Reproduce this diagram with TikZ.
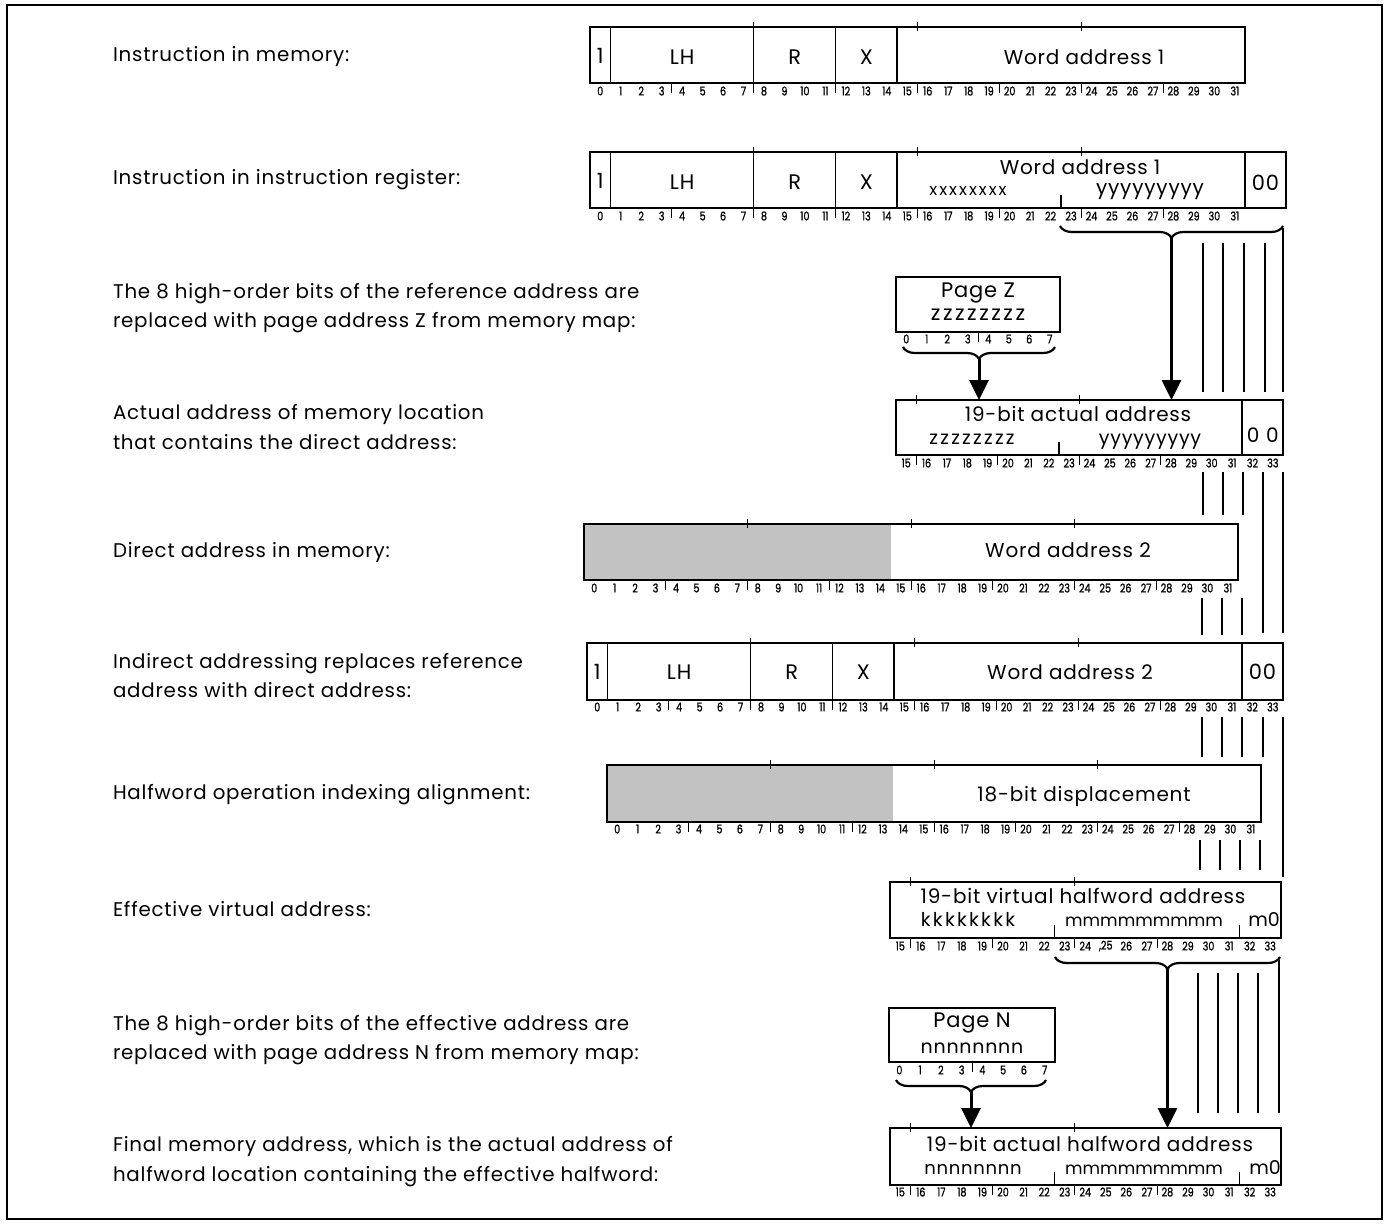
\documentclass[tikz,border=0pt]{standalone}
\usepackage{fontspec}
\setmainfont{Poppins}[LetterSpace=4]
\newfontfamily\numfont{Poppins}[FakeStretch=0.8,FakeBold=1.2]
\newfontfamily\codefont{Poppins}[LetterSpace=12]
\newfontfamily\plainfont{Poppins}
\usetikzlibrary{arrows.meta,decorations.pathreplacing}

\tikzset{
  every node/.style={inner sep=0pt, outer sep=0pt},
  lbl/.style={anchor=base west, font=\fontsize{19.8}{29}\selectfont},
  regbox/.style={draw, line width=2.4pt, anchor=north west, inner sep=0pt},
  greyfill/.style={fill=black!24},
  fieldtxt/.style={font=\fontsize{21}{24}\selectfont},
  midtxt/.style={font=\fontsize{20}{22}\selectfont},
  codetxt/.style={anchor=base, font=\codefont\fontsize{19}{20}\selectfont},
  ntxt/.style={anchor=base, font=\fontsize{18}{20}\selectfont},
  mtxt/.style={anchor=base, font=\plainfont\fontsize{17}{20}\selectfont},
  bitnum/.style={font=\numfont\fontsize{12}{12}\selectfont},
  divider/.style={line width=1.4pt},
  tick/.style={line width=1pt},
  feed/.style={line width=1.7pt},
  bracket/.style={decorate, decoration={brace, amplitude=12pt}, line width=2.2pt},
  bigarrow/.style={line width=3pt, -{Triangle[width=19pt,length=20pt]}},
}

% bit numbers under a register, and tick marks, using bx(k) of the enclosing scope
\newcommand\numrow[4]{%
  \foreach \b in {#2,...,#3}
    \node[bitnum] (#1-\b) at ({bx(\b+0.5)},#4) {\b};}
\newcommand\lowticks[3]{%
  \foreach \k in {#1} \draw[tick] ({bx(\k)},#2) -- ++(0,#3);}
\newcommand\topticks[2]{%
  \foreach \k in {#1} \draw[tick] ({bx(\k)},#2-5) -- ++(0,9);}

\begin{document}
\begin{tikzpicture}[x=1pt,y=-1pt]
\useasboundingbox (0,0) rectangle (1388,1226);
\draw[line width=2.5pt] (7,5) rectangle (1382,1219);

% ---------- descriptions ----------
\node[lbl] (l1)  at (113,61)   {Instruction in memory:};
\node[lbl] (l2)  at (113,184)  {Instruction in instruction register:};
\node[lbl] (l3a) at (113,298)  {The 8 high-order bits of the reference address are};
\node[lbl] (l3b) at (113,327)  {replaced with page address Z from memory map:};
\node[lbl] (l4a) at (113,419)  {Actual address of memory location};
\node[lbl] (l4b) at (113,449)  {that contains the direct address:};
\node[lbl] (l5)  at (113,557)  {Direct address in memory:};
\node[lbl] (l6a) at (113,668)  {Indirect addressing replaces reference};
\node[lbl] (l6b) at (113,697)  {address with direct address:};
\node[lbl] (l7)  at (113,799)  {Halfword operation indexing alignment:};
\node[lbl] (l8)  at (113,916)  {Effective virtual address:};
\node[lbl] (l9a) at (113,1030) {The 8 high-order bits of the effective address are};
\node[lbl] (l9b) at (113,1059) {replaced with page address N from memory map:};
\node[lbl] (l10a) at (113,1151) {Final memory address, which is the actual address of};
\node[lbl] (l10b) at (113,1181) {halfword location containing the effective halfword:};

% ---------- instruction in memory ----------
\begin{scope}[declare function={bx(\k)=590+\k*20.47;}]
  \node[regbox, minimum width=655pt, minimum height=56pt] (r1) at (590,27) {};
  \foreach \k in {1,8,12,15} \draw[divider] ({bx(\k)},27) -- ++(0,56);
  \topticks{8,16,24}{27}
  \lowticks{4,8,12,16,20,24,28}{83}{10}
  \node[fieldtxt] (r1f0) at ({bx(0.5)},56) {1};
  \node[fieldtxt] (r1lh) at ({bx(4.5)},57) {LH};
  \node[fieldtxt] (r1r)  at ({bx(10)},57) {R};
  \node[fieldtxt] (r1x)  at ({bx(13.5)},57) {X};
  \node[midtxt]   (r1wa) at (1084,57) {Word address 1};
  \numrow{r1}{0}{31}{91}
\end{scope}

% ---------- instruction register ----------
\begin{scope}[declare function={bx(\k)=590+\k*20.47;}]
  \node[regbox, minimum width=696pt, minimum height=56pt] (r2) at (590,152) {};
  \foreach \k in {1,8,12,15} \draw[divider] ({bx(\k)},152) -- ++(0,56);
  \draw[line width=2.2pt] ({bx(32)},152) -- ++(0,56);
  \topticks{8,16,24}{152}
  \lowticks{4,8,12,16,20,24,28}{208}{10}
  \draw[tick, line width=1.6pt] ({bx(23)},208) -- ++(0,-13);
  \node[fieldtxt] (r2f0) at ({bx(0.5)},181) {1};
  \node[fieldtxt] (r2lh) at ({bx(4.5)},182) {LH};
  \node[fieldtxt] (r2r)  at ({bx(10)},182) {R};
  \node[fieldtxt] (r2x)  at ({bx(13.5)},182) {X};
  \node[midtxt]   (r2wa) at (1080,167) {Word address 1};
  \node[codetxt, font=\codefont\fontsize{16.5}{18}\selectfont] (r2xx) at (968,195) {xxxxxxxx};
  \node[codetxt, font=\fontsize{20}{22}\selectfont] (r2yy) at (1150,194) {yyyyyyyyy};
  \node[fieldtxt] (r2zero) at ({bx(33)},183) {00};
  \numrow{r2}{0}{31}{216}
\end{scope}

% bits 23..33 of the register feed the actual address
\draw[bracket] (1283,226) -- (1060,226);
\coordinate (b1) at (1171.5,238);

% ---------- page Z from the memory map ----------
\begin{scope}[declare function={bx(\k)=896+\k*20.5;}]
  \node[regbox, minimum width=164pt, minimum height=55pt] (pz) at (896,277) {};
  \node[midtxt, font=\fontsize{21}{22}\selectfont] (pzt) at (978,293) {Page Z};
  \node[codetxt, font=\codefont\fontsize{21}{22}\selectfont] (pzz) at (978,320) {zzzzzzzz};
  \lowticks{4}{332}{10}
  \numrow{pz}{0}{7}{339}
\end{scope}
\draw[bracket] (1055,347) -- (903,347);
\coordinate (b2) at (979,359);

% ---------- actual address ----------
\begin{scope}[declare function={bx(\k)=896+(\k-15)*20.37;}]
  \node[regbox, minimum width=387pt, minimum height=55pt] (r4) at (896,400) {};
  \draw[line width=2pt] ({bx(32)},400) -- ++(0,55);
  \topticks{16,24}{400}
  \lowticks{16,20,24,28}{455}{10}
  \draw[tick, line width=1.6pt] ({bx(23)},455) -- ++(0,-13);
  \node[midtxt] (r4t) at (1078,414) {19-bit actual address};
  \node[codetxt] (r4z) at (972,444) {zzzzzzzz};
  \node[codetxt, font=\fontsize{19}{22}\selectfont] (r4y) at (1150,444) {yyyyyyyyy};
  \node[midtxt] (r4zero) at ({bx(33)},435) {0\,\,0};
  \numrow{r4}{15}{33}{463}
\end{scope}

\draw[bigarrow] (b1) -- (b1 |- r4.north);
\draw[bigarrow] (b2) -- (b2 |- r4.north);
\foreach \x in {1203,1223,1244,1265} \draw[feed] (\x,243) -- (\x,392);
\draw[feed] (1283,228) -- (1283,392);

% ---------- direct address in memory ----------
\begin{scope}[declare function={bx(\k)=584+\k*20.44;}]
  \fill[greyfill] (584,524) rectangle ({bx(15)},580);
  \node[regbox, minimum width=654pt, minimum height=56pt] (r5) at (584,524) {};
  \topticks{8,16,24}{524}
  \lowticks{4,8,12,16,20,24,28}{580}{10}
  \node[midtxt] (r5wa) at (1068,550) {Word address 2};
  \numrow{r5}{0}{31}{588}
\end{scope}
\foreach \x in {1203,1223,1243} \draw[feed] (\x,472) -- (\x,515);
\foreach \x in {1263,1283} \draw[feed] (\x,472) -- (\x,633);
\foreach \x in {1202,1222,1242} \draw[feed] (\x,598) -- (\x,635);

% ---------- indirect addressing ----------
\begin{scope}[declare function={bx(\k)=587+\k*20.47;}]
  \node[regbox, minimum width=696pt, minimum height=57pt] (r6) at (587,643) {};
  \foreach \k in {1,8,12,15} \draw[divider] ({bx(\k)},643) -- ++(0,57);
  \draw[line width=2.2pt] ({bx(32)},643) -- ++(0,57);
  \topticks{8,16,24}{643}
  \lowticks{4,8,12,16,20,24,28}{700}{10}
  \node[fieldtxt] (r6f0) at ({bx(0.5)},672) {1};
  \node[fieldtxt] (r6lh) at ({bx(4.5)},672) {LH};
  \node[fieldtxt] (r6r)  at ({bx(10)},672) {R};
  \node[fieldtxt] (r6x)  at ({bx(13.5)},672) {X};
  \node[midtxt]   (r6wa) at (1070,672) {Word address 2};
  \node[fieldtxt] (r6zero) at ({bx(33)},672) {00};
  \numrow{r6}{0}{33}{707}
\end{scope}
\foreach \x in {1202,1222,1242,1263} \draw[feed] (\x,717) -- (\x,757);
\draw[feed] (1283,717) -- (1283,877);

% ---------- halfword displacement ----------
\begin{scope}[declare function={bx(\k)=607+\k*20.44;}]
  \fill[greyfill] (607,765) rectangle ({bx(14)},822);
  \node[regbox, minimum width=654pt, minimum height=57pt] (r7) at (607,765) {};
  \topticks{8,16,24}{765}
  \lowticks{4,8,12,16,20,24,28}{822}{10}
  \node[midtxt] (r7t) at (1084,796) {18-bit displacement};
  \numrow{r7}{0}{31}{829}
\end{scope}
\foreach \x in {1200,1220,1240,1260} \draw[feed] (\x,840) -- (\x,870);

% ---------- effective virtual address ----------
\begin{scope}[declare function={bx(\k)=890+(\k-15)*20.55;}]
  \node[regbox, minimum width=391pt, minimum height=56pt] (r8) at (890,882) {};
  \topticks{16,24}{882}
  \lowticks{16,20,24,28}{938}{10}
  \draw[tick, line width=1.6pt] ({bx(23)},938) -- ++(0,-13);
  \draw[tick, line width=1.6pt] ({bx(32)},938) -- ++(0,-13);
  \node[midtxt] (r8t) at (1083,896) {19-bit virtual halfword address};
  \node[codetxt] (r8k) at (968,926) {kkkkkkkk};
  \node[mtxt] (r8m) at (1144,926) {mmmmmmmmm};
  \node[mtxt, font=\plainfont\fontsize{19}{20}\selectfont] (r8m0) at (1264,926) {m0};
  \foreach \b in {15,...,33}
    \node[bitnum] (r8-\b) at ({bx(\b+0.5)},946) {\ifnum\b=25 ,\fi\b};
\end{scope}

\draw[bracket] (1280,957) -- (1055,957);
\coordinate (b3) at (1167.5,969);

% ---------- page N from the memory map ----------
\begin{scope}[declare function={bx(\k)=889+\k*20.75;}]
  \node[regbox, minimum width=166pt, minimum height=54pt] (pn) at (889,1008) {};
  \node[midtxt, font=\fontsize{21}{22}\selectfont] (pnt) at (972,1023) {Page N};
  \node[ntxt, font=\fontsize{19}{20}\selectfont] (pnn) at (972,1053) {nnnnnnnn};
  \lowticks{4}{1062}{10}
  \numrow{pn}{0}{7}{1070}
\end{scope}
\draw[bracket] (1046,1080) -- (896,1080);
\coordinate (b4) at (971,1092);

% ---------- final memory address ----------
\begin{scope}[declare function={bx(\k)=890+(\k-15)*20.55;}]
  \node[regbox, minimum width=391pt, minimum height=57pt] (r10) at (890,1128) {};
  \topticks{16,24}{1128}
  \lowticks{16,20,24,28}{1185}{10}
  \draw[tick, line width=1.6pt] ({bx(23)},1185) -- ++(0,-13);
  \draw[tick, line width=1.6pt] ({bx(32)},1185) -- ++(0,-13);
  \node[midtxt] (r10t) at (1090,1144) {19-bit actual halfword address};
  \node[ntxt] (r10n) at (973,1174) {nnnnnnnn};
  \node[mtxt] (r10m) at (1144,1174) {mmmmmmmmm};
  \node[mtxt, font=\plainfont\fontsize{19}{20}\selectfont] (r10m0) at (1265,1174) {m0};
  \numrow{r10}{15}{33}{1192}
\end{scope}

\draw[bigarrow] (b3) -- (b3 |- r10.north);
\draw[bigarrow] (b4) -- (b4 |- r10.north);
\foreach \x in {1198,1218,1238,1258} \draw[feed] (\x,973) -- (\x,1113);
\draw[feed] (1279,960) -- (1279,1113);
\end{tikzpicture}
\end{document}
